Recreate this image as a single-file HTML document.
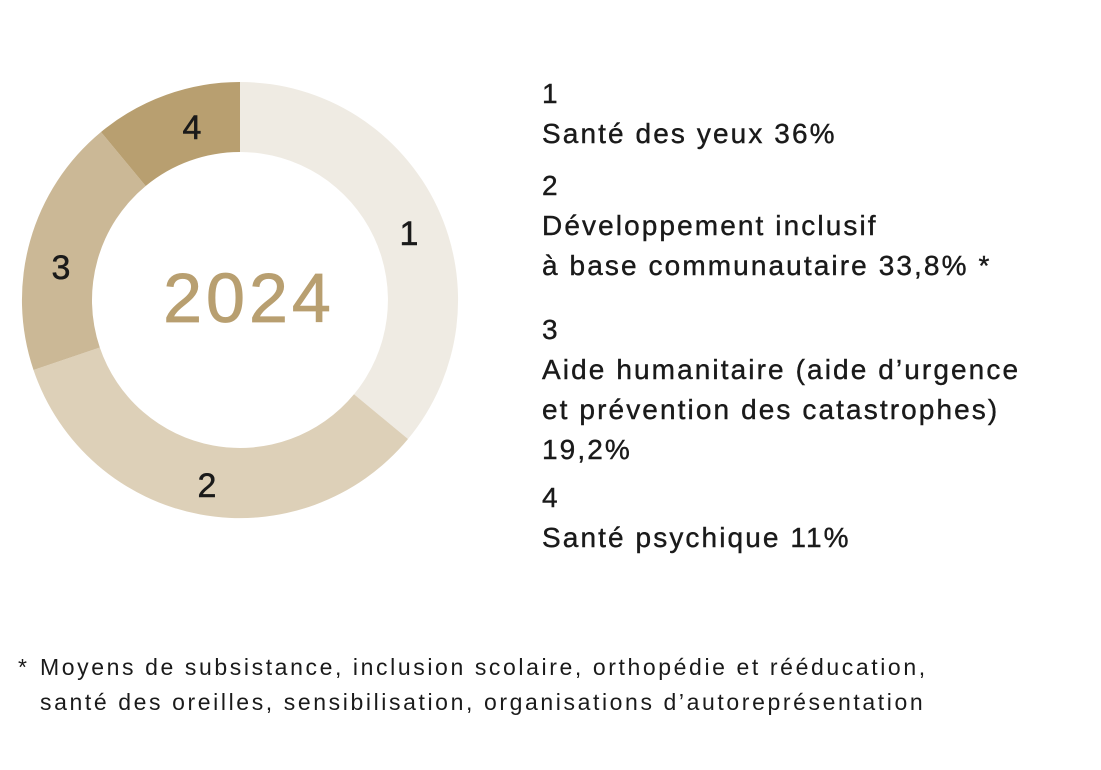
<!DOCTYPE html>
<html><head><meta charset="utf-8"><style>
body{margin:0;background:#fff;width:1101px;height:770px;overflow:hidden;font-family:"Liberation Sans",sans-serif;color:#1a1a1a}
.t{position:absolute;left:542px;font-size:28px;line-height:40px;margin:0;letter-spacing:2.1px;-webkit-text-stroke:0.4px #1a1a1a;white-space:nowrap}
.f{position:absolute;left:18px;font-size:23px;line-height:35px;letter-spacing:2.6px;white-space:nowrap}
</style></head><body>
<svg width="1101" height="770" style="position:absolute;left:0;top:0">
<path d="M240,82 A218,218 0 0 1 408,439 L354,394.3 A148,148 0 0 0 240,152 Z" fill="#efebe3"/>
<path d="M408,439 A218,218 0 0 1 33.5,370 L99.8,347.5 A148,148 0 0 0 354,394.3 Z" fill="#ddd0b8"/>
<path d="M33.5,370 A218,218 0 0 1 101,132 L145.7,186 A148,148 0 0 0 99.8,347.5 Z" fill="#cbb896"/>
<path d="M101,132 A218,218 0 0 1 240,82 L240,152 A148,148 0 0 0 145.7,186 Z" fill="#b89f70"/>
<g font-family="Liberation Sans, sans-serif" font-size="34" fill="#1a1a1a" stroke="#1a1a1a" stroke-width="0.5" text-anchor="middle">
<text x="409" y="245">1</text><text x="207" y="497">2</text><text x="61" y="279">3</text><text x="192" y="139">4</text>
</g>
<text x="249" y="322" font-family="Liberation Sans, sans-serif" font-size="70" letter-spacing="4" fill="#b89f70" stroke="#b89f70" stroke-width="0.8" text-anchor="middle">2024</text>
</svg>
<div class="t" style="top:74px">1<br>Santé des yeux 36%</div>
<div class="t" style="top:166px">2<br>Développement inclusif<br>à base communautaire 33,8% *</div>
<div class="t" style="top:310px">3<br>Aide humanitaire (aide d’urgence<br>et prévention des catastrophes)<br>19,2%</div>
<div class="t" style="top:478px">4<br>Santé psychique 11%</div>
<div class="f" style="top:650px">*</div>
<div class="f" style="top:650px;left:40px">Moyens de subsistance, inclusion scolaire, orthopédie et rééducation,<br>santé des oreilles, sensibilisation, organisations d’autoreprésentation</div>
</body></html>
